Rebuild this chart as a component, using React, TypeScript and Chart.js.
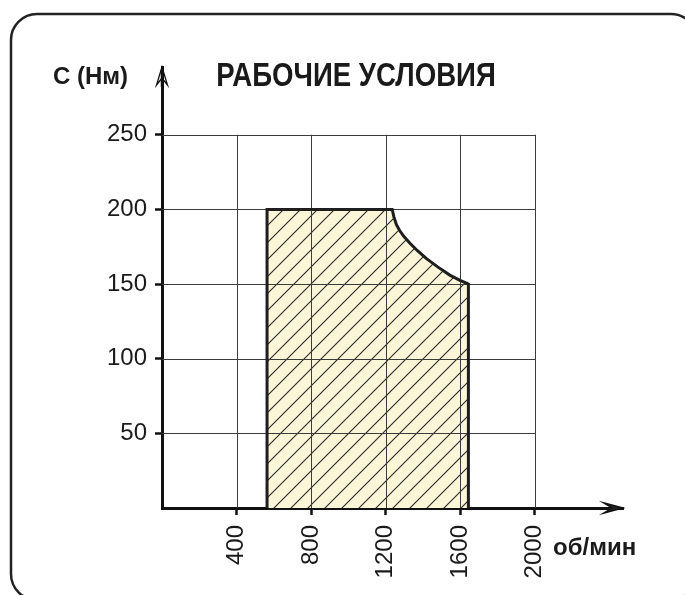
import React, { useEffect, useRef } from "react";
import { Chart, registerables } from "chart.js";

Chart.register(...registerables);

// ---- data ----
const speedRpm = [564, 564, 1236, 1245, 1258, 1275, 1298, 1330, 1370, 1420, 1480, 1545, 1600, 1638, 1645, 1645];
const torqueNm = [0, 200, 200, 195, 190, 186, 182, 177.5, 172.5, 167, 161.5, 156, 152.5, 150.5, 150, 0];
const xTickValues = [400, 800, 1200, 1600, 2000];
const yTickValues = [50, 100, 150, 200, 250];
const titleText = "РАБОЧИЕ УСЛОВИЯ";
const yAxisTitle = "C (Нм)";
const xAxisTitle = "об/мин";
const xMax = 2475;
const yMax = 295.4;

const FONT = '"Liberation Sans", Arial, sans-serif';

function makeHatch(ctx: CanvasRenderingContext2D): CanvasPattern | string {
  const s = 17;
  const c = document.createElement("canvas");
  c.width = s;
  c.height = s;
  const g = c.getContext("2d");
  if (!g) return "#FBF6D8";
  g.fillStyle = "#FBF6D8";
  g.fillRect(0, 0, s, s);
  g.strokeStyle = "#2a2a2a";
  g.lineWidth = 1.1;
  g.beginPath();
  g.moveTo(-2, s + 2);
  g.lineTo(s + 2, -2);
  g.moveTo(-2, 2);
  g.lineTo(2, -2);
  g.moveTo(s - 2, s + 2);
  g.lineTo(s + 2, s - 2);
  g.stroke();
  return ctx.createPattern(c, "repeat") || "#FBF6D8";
}

function squeezedText(ctx: CanvasRenderingContext2D, text: string, x: number, y: number, sx: number, align: "left" | "center") {
  ctx.save();
  ctx.translate(x, y);
  ctx.scale(sx, 1);
  ctx.textAlign = align;
  ctx.fillText(text, 0, 0);
  ctx.restore();
}

const decorPlugin = {
  id: "decor",
  beforeDraw(chart: any) {
    const ctx = chart.ctx as CanvasRenderingContext2D;
    ctx.save();
    ctx.fillStyle = "#ffffff";
    ctx.fillRect(0, 0, chart.width, chart.height);
    ctx.beginPath();
    (ctx as any).roundRect(11, 14, 686, 586, 26);
    ctx.lineWidth = 2.5;
    ctx.strokeStyle = "#222";
    ctx.stroke();
    ctx.restore();
  },
  beforeDatasetsDraw(chart: any) {
    const ctx = chart.ctx as CanvasRenderingContext2D;
    const xs = chart.scales.x;
    const ys = chart.scales.y;
    const x0 = xs.getPixelForValue(0);
    const x1 = xs.getPixelForValue(xTickValues[xTickValues.length - 1]);
    const y0 = ys.getPixelForValue(0);
    const y1 = ys.getPixelForValue(yTickValues[yTickValues.length - 1]);
    ctx.save();
    ctx.strokeStyle = "#3c3c3c";
    ctx.lineWidth = 1;
    ctx.beginPath();
    for (const v of yTickValues) {
      const py = Math.round(ys.getPixelForValue(v)) + 0.5;
      ctx.moveTo(x0, py);
      ctx.lineTo(x1 + 0.5, py);
    }
    for (const v of xTickValues) {
      const px = Math.round(xs.getPixelForValue(v)) + 0.5;
      ctx.moveTo(px, y1);
      ctx.lineTo(px, y0);
    }
    ctx.stroke();
    ctx.restore();
  },
  afterDraw(chart: any) {
    const ctx = chart.ctx as CanvasRenderingContext2D;
    const a = chart.chartArea;
    ctx.save();
    ctx.strokeStyle = "#111";
    ctx.lineWidth = 1.3;
    ctx.lineJoin = "miter";
    // y arrow
    const ax = a.left;
    const ay = a.top;
    ctx.beginPath();
    ctx.moveTo(ax, ay);
    ctx.lineTo(ax - 5.5, ay + 18);
    ctx.lineTo(ax, ay + 11);
    ctx.lineTo(ax + 5.5, ay + 18);
    ctx.closePath();
    ctx.stroke();
    ctx.lineWidth = 2.5;
    ctx.beginPath();
    ctx.moveTo(ax, ay + 3);
    ctx.lineTo(ax, ay + 20);
    ctx.stroke();
    // x arrow
    const bx = a.right;
    const by = a.bottom;
    ctx.lineWidth = 1.3;
    ctx.beginPath();
    ctx.moveTo(bx, by);
    ctx.lineTo(bx - 20, by - 5.5);
    ctx.lineTo(bx - 11, by);
    ctx.lineTo(bx - 20, by + 5.5);
    ctx.closePath();
    ctx.fillStyle = "#222";
    ctx.fill();
    ctx.stroke();

    // texts
    ctx.fillStyle = "#1a1a1a";
    ctx.textBaseline = "alphabetic";
    ctx.font = `bold 33px ${FONT}`;
    squeezedText(ctx, titleText, 356, 86, 0.837, "center");
    ctx.font = `bold 24px ${FONT}`;
    squeezedText(ctx, yAxisTitle, 53, 84, 1, "left");
    squeezedText(ctx, xAxisTitle, 553, 555, 1, "left");
    ctx.restore();
  },
};

export default function App() {
  const ref = useRef<HTMLCanvasElement | null>(null);
  useEffect(() => {
    const canvas = ref.current;
    if (!canvas) return;
    const ctx = canvas.getContext("2d")!;
    const pattern = makeHatch(ctx);
    const points = speedRpm.map((x, i) => ({ x, y: torqueNm[i] }));
    const tickFont = { family: FONT, size: 24 };
    const chart = new Chart(canvas, {
      type: "scatter",
      data: {
        datasets: [
          {
            data: points,
            showLine: true,
            fill: "origin",
            backgroundColor: pattern as any,
            borderColor: "#1e1e1e",
            borderWidth: 3,
            borderJoinStyle: "miter",
            pointRadius: 0,
            tension: 0,
          },
        ],
      },
      plugins: [decorPlugin],
      options: {
        responsive: false,
        animation: false,
        events: [],
        layout: { padding: { left: 0, top: 67, right: 62, bottom: 0 } },
        plugins: {
          legend: { display: false },
          tooltip: { enabled: false },
          title: { display: false },
          filler: { drawTime: "beforeDatasetsDraw" },
        } as any,
        scales: {
          x: {
            type: "linear",
            min: 0,
            max: xMax,
            afterBuildTicks: (s: any) => {
              s.ticks = xTickValues.map((v) => ({ value: v }));
            },
            afterFit: (s: any) => {
              s.height = 87;
            },
            ticks: {
              autoSkip: false,
              minRotation: 90,
              maxRotation: 90,
              padding: 10,
              color: "#1a1a1a",
              font: tickFont,
              callback: (v: any) => String(v),
            },
            grid: {
              display: true,
              drawOnChartArea: false,
              drawTicks: true,
              tickLength: 7,
              tickWidth: 2.5,
              tickColor: "#111",
            },
            border: { display: true, color: "#111", width: 3 },
          },
          y: {
            type: "linear",
            min: 0,
            max: yMax,
            afterBuildTicks: (s: any) => {
              s.ticks = yTickValues.map((v) => ({ value: v }));
            },
            afterFit: (s: any) => {
              s.width = 162;
            },
            ticks: {
              autoSkip: false,
              padding: 8,
              color: "#1a1a1a",
              font: tickFont,
              callback: (v: any) => String(v),
            },
            grid: {
              display: true,
              drawOnChartArea: false,
              drawTicks: true,
              tickLength: 7,
              tickWidth: 2.5,
              tickColor: "#111",
            },
            border: { display: true, color: "#111", width: 3 },
          },
        },
      } as any,
    });
    return () => chart.destroy();
  }, []);
  return (
    <div style={{ position: "absolute", left: 0, top: 0, width: 685, height: 595 }}>
      <canvas ref={ref} width={685} height={595} style={{ display: "block" }} />
    </div>
  );
}
